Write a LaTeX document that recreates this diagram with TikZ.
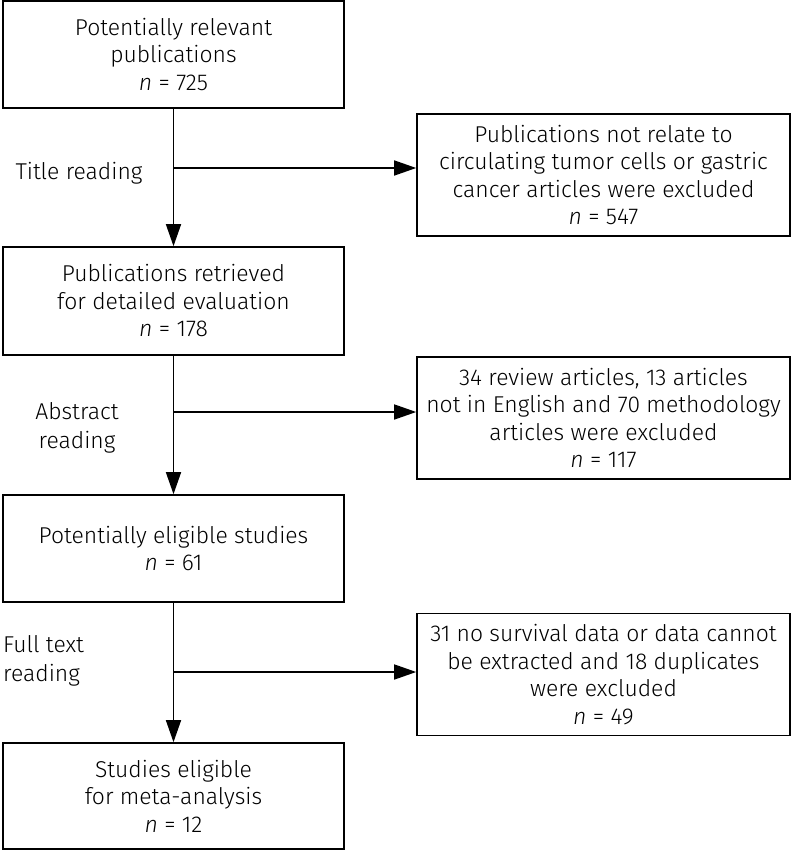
\documentclass[tikz,border=0pt]{standalone}
\usepackage{fontspec}
\setmainfont{Fira Sans}[UprightFont={* Light}, ItalicFont={* Light Italic}]
\usetikzlibrary{arrows.meta,calc}
\begin{document}
\begin{tikzpicture}[x=1pt,y=-1pt,
  box/.style={draw, line width=1.6pt, align=center, inner sep=0pt,
    font=\fontsize{22.9}{27.5}\selectfont},
  lbox/.style={box, minimum width=341pt},
  rbox/.style={box, minimum width=373pt, minimum height=122pt},
  lab/.style={align=center, inner sep=0pt, font=\fontsize{22.9}{28.5}\selectfont},
  arr/.style={line width=1.5pt, -{Triangle[length=22pt,width=15pt]}}]
\useasboundingbox (0,0) rectangle (793,851);

\node[lbox, minimum height=107pt] (b1) at (173.5,54.5) {Potentially relevant\\publications\\\textit{n} = 725};
\node[lbox, minimum height=108pt] (b2) at (173.5,301) {Publications retrieved\\for detailed evaluation\\\textit{n} = 178};
\node[lbox, minimum height=107pt] (b3) at (173.5,548.5) {Potentially eligible studies\\\textit{n} = 61};
\node[lbox, minimum height=106pt] (b4) at (173.5,796) {Studies eligible\\for meta-analysis\\\textit{n} = 12};

\node[rbox] (r1) at (603.5,175) {Publications not relate to\\circulating tumor cells or gastric\\cancer articles were excluded\\\textit{n} = 547};
\node[rbox] (r2) at (603.5,418) {34 review articles, 13 articles\\not in English and 70 methodology\\articles were excluded\\\textit{n} = 117};
\node[rbox] (r3) at (603.5,674.5) {31 no survival data or data cannot\\be extracted and 18 duplicates\\were excluded\\\textit{n} = 49};

\draw[arr] (b1) -- (b2);
\draw[arr] (b2) -- (b3);
\draw[arr] (b3) -- (b4);

\coordinate (t1) at (173.5,168);
\coordinate (t2) at (173.5,412);
\coordinate (t3) at (173.5,672);
\draw[arr] (t1) -- (t1 -| r1.west);
\draw[arr] (t2) -- (t2 -| r2.west);
\draw[arr] (t3) -- (t3 -| r3.west);

\node[lab] (l1) at (79,173) {Title reading};
\node[lab] (l2) at (77,428) {Abstract\\reading};
\node[lab, align=left, anchor=west] (l3) at (3,661) {Full text\\reading};
\end{tikzpicture}
\end{document}
